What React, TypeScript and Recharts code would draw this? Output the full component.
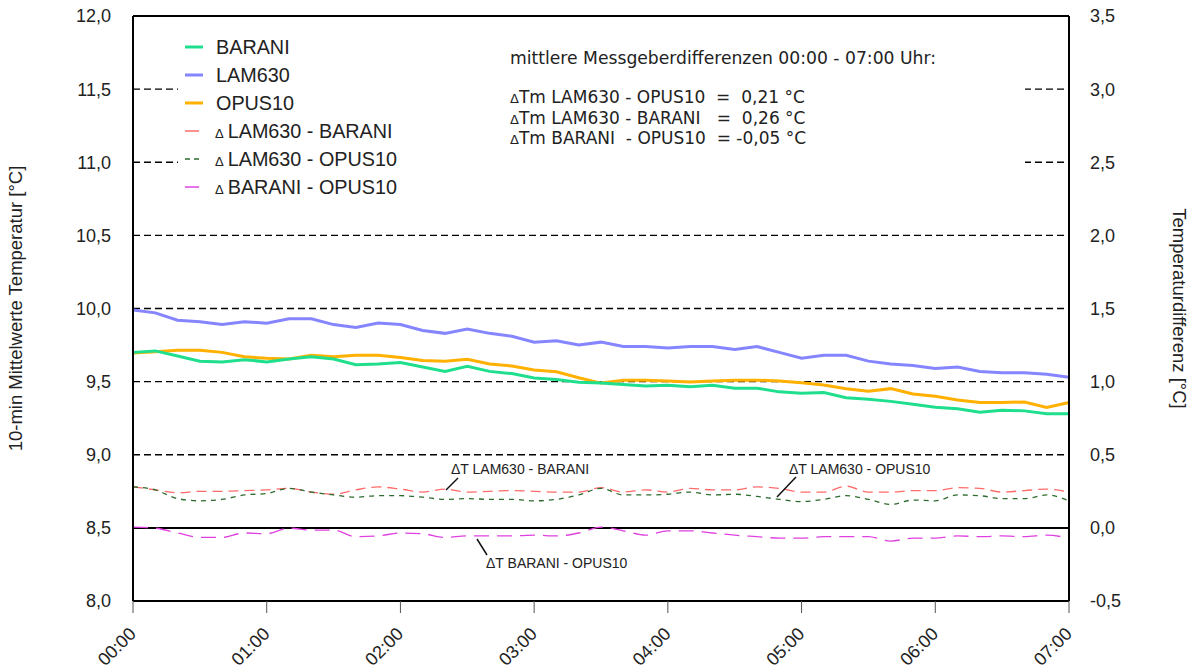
import { Line, LineChart, ReferenceLine, XAxis, YAxis } from 'recharts'

const times = [
  '00:00', '00:10', '00:20', '00:30', '00:40', '00:50',
  '01:00', '01:10', '01:20', '01:30', '01:40', '01:50',
  '02:00', '02:10', '02:20', '02:30', '02:40', '02:50',
  '03:00', '03:10', '03:20', '03:30', '03:40', '03:50',
  '04:00', '04:10', '04:20', '04:30', '04:40', '04:50',
  '05:00', '05:10', '05:20', '05:30', '05:40', '05:50',
  '06:00', '06:10', '06:20', '06:30', '06:40', '06:50',
  '07:00',
]
const hourTicks = ['00:00', '01:00', '02:00', '03:00', '04:00', '05:00', '06:00', '07:00']

const barani = [
  9.70, 9.71, 9.675, 9.64, 9.635, 9.65, 9.635, 9.655, 9.67, 9.655, 9.615, 9.62,
  9.63, 9.60, 9.57, 9.605, 9.57, 9.555, 9.525, 9.515, 9.495, 9.49, 9.48, 9.47,
  9.475, 9.465, 9.475, 9.455, 9.455, 9.43, 9.42, 9.425, 9.39, 9.38, 9.365, 9.345,
  9.325, 9.315, 9.29, 9.305, 9.30, 9.28, 9.28,
]
const lam630 = [
  9.99, 9.97, 9.92, 9.91, 9.89, 9.91, 9.90, 9.93, 9.93, 9.89, 9.87, 9.90,
  9.89, 9.85, 9.83, 9.86, 9.83, 9.81, 9.77, 9.78, 9.75, 9.77, 9.74, 9.74,
  9.73, 9.74, 9.74, 9.72, 9.74, 9.70, 9.66, 9.68, 9.68, 9.64, 9.62, 9.61,
  9.59, 9.60, 9.57, 9.56, 9.56, 9.55, 9.53,
]
const opus10 = [
  9.695, 9.705, 9.715, 9.715, 9.70, 9.67, 9.66, 9.655, 9.68, 9.67, 9.68, 9.68,
  9.665, 9.645, 9.64, 9.653, 9.62, 9.607, 9.58, 9.568, 9.527, 9.49, 9.51, 9.51,
  9.504, 9.497, 9.504, 9.509, 9.51, 9.504, 9.493, 9.477, 9.452, 9.434, 9.452, 9.415,
  9.40, 9.374, 9.357, 9.357, 9.361, 9.324, 9.357,
]
const dLamBarani = [
  0.28, 0.26, 0.24, 0.25, 0.25, 0.255, 0.26, 0.27, 0.245, 0.23, 0.26, 0.28,
  0.265, 0.245, 0.265, 0.245, 0.25, 0.255, 0.25, 0.245, 0.245, 0.275, 0.245, 0.26,
  0.245, 0.27, 0.26, 0.26, 0.28, 0.27, 0.245, 0.245, 0.285, 0.245, 0.245, 0.255,
  0.255, 0.275, 0.27, 0.245, 0.255, 0.265, 0.245,
]
const dLamOpus = [
  0.28, 0.26, 0.20, 0.185, 0.195, 0.225, 0.235, 0.27, 0.245, 0.225, 0.21, 0.22,
  0.22, 0.21, 0.195, 0.20, 0.195, 0.195, 0.185, 0.195, 0.225, 0.27, 0.225, 0.225,
  0.23, 0.245, 0.225, 0.23, 0.215, 0.195, 0.18, 0.195, 0.22, 0.195, 0.16, 0.19,
  0.185, 0.225, 0.22, 0.20, 0.20, 0.225, 0.185,
]
const dBaraniOpus = [
  0.005, -0.002, -0.035, -0.065, -0.065, -0.035, -0.04, -0.002, -0.015, -0.015, -0.06, -0.055,
  -0.035, -0.04, -0.065, -0.055, -0.055, -0.055, -0.05, -0.055, -0.035, 0.005, -0.02, -0.05,
  -0.02, -0.02, -0.035, -0.05, -0.06, -0.07, -0.07, -0.06, -0.06, -0.06, -0.09, -0.07,
  -0.07, -0.055, -0.06, -0.055, -0.06, -0.05, -0.07,
]

const leftTicks = [8, 8.5, 9, 9.5, 10, 10.5, 11, 11.5, 12]
const rightTicks = [-0.5, 0, 0.5, 1, 1.5, 2, 2.5, 3, 3.5]
const gridValues = [9, 9.5, 10, 10.5, 11, 11.5]

const summaryLines = [
  'ΔTm LAM630 - OPUS10  =  0,21 °C',
  'ΔTm LAM630 - BARANI   =  0,26 °C',
  'ΔTm BARANI  - OPUS10  = -0,05 °C',
]

const FONT = '"Liberation Sans", Arial, sans-serif'
const C_BARANI = '#1fdf8c'
const C_LAM = '#8585ff'
const C_OPUS = '#ffb000'
const C_D1 = '#ff6b6b'
const C_D2 = '#2e6b2e'
const C_D3 = '#e040e0'

const fmt = (v: number) => v.toFixed(1).replace('.', ',')

function TimeTick({ x, y, payload }: any) {
  return (
    <g transform={`translate(${x + 4},${y + 20})`}>
      <text
        x={0}
        y={0}
        textAnchor="end"
        transform="rotate(-45)"
        fontSize={18}
        fontFamily={FONT}
        fill="#222"
      >
        {payload.value}
      </text>
    </g>
  )
}

const legendRows = [
  { label: 'BARANI', color: C_BARANI, width: 3, dash: undefined, delta: false },
  { label: 'LAM630', color: C_LAM, width: 3, dash: undefined, delta: false },
  { label: 'OPUS10', color: C_OPUS, width: 3, dash: undefined, delta: false },
  { label: 'LAM630 - BARANI', color: C_D1, width: 1.5, dash: undefined, delta: true },
  { label: 'LAM630 - OPUS10', color: C_D2, width: 1.5, dash: '5 4', delta: true },
  { label: 'BARANI - OPUS10', color: C_D3, width: 1.5, dash: undefined, delta: true },
]

export default function App() {
  const data = times.map((t, i) => ({
    t,
    barani: barani[i],
    lam630: lam630[i],
    opus10: opus10[i],
    dLamBarani: dLamBarani[i],
    dLamOpus: dLamOpus[i],
    dBaraniOpus: dBaraniOpus[i],
  }))

  return (
    <div
      style={{
        position: 'absolute',
        left: 0,
        top: 0,
        width: 1195,
        height: 671,
        background: '#fff',
        fontFamily: FONT,
      }}
    >
      <LineChart width={1195} height={671} data={data} margin={{ top: 16, right: 0, bottom: 0, left: 0 }}>
        <XAxis
          dataKey="t"
          ticks={hourTicks}
          interval={0}
          height={70}
          tickSize={12}
          tick={<TimeTick />}
          tickLine={{ stroke: '#555' }}
          axisLine={{ stroke: '#000', strokeWidth: 2 }}
        />
        <YAxis
          yAxisId="left"
          domain={[8, 12]}
          ticks={leftTicks}
          tickFormatter={fmt}
          width={133}
          tickLine={false}
          tickMargin={16}
          axisLine={{ stroke: '#000', strokeWidth: 2 }}
          tick={{ fill: '#222', fontSize: 18, fontFamily: FONT }}
          label={{
            value: '10-min Mittelwerte Temperatur [°C]',
            angle: -90,
            position: 'insideLeft',
            offset: 15,
            style: { textAnchor: 'middle', fontSize: 18.5, fill: '#222', fontFamily: FONT },
          }}
        />
        <YAxis
          yAxisId="right"
          orientation="right"
          domain={[-0.5, 3.5]}
          ticks={rightTicks}
          tickFormatter={fmt}
          width={126}
          tickLine={false}
          tickMargin={15}
          axisLine={{ stroke: '#000', strokeWidth: 2 }}
          tick={{ fill: '#222', fontSize: 18, fontFamily: FONT }}
          label={{
            value: 'Temperaturdifferenz [°C]',
            angle: 90,
            position: 'insideRight',
            offset: 15,
            style: { textAnchor: 'middle', fontSize: 18.5, fill: '#222', fontFamily: FONT },
          }}
        />
        {gridValues.map((v) => (
          <ReferenceLine key={v} yAxisId="left" y={v} stroke="#000" strokeWidth={1.3} strokeDasharray="7 4" />
        ))}
        <ReferenceLine yAxisId="left" y={12} stroke="#000" strokeWidth={2} />
        <ReferenceLine yAxisId="right" y={0} stroke="#000" strokeWidth={2} />
        <Line yAxisId="right" type="monotone" dataKey="dLamBarani" stroke={C_D1} strokeWidth={1.3} strokeDasharray="10 6" dot={false} isAnimationActive={false} />
        <Line yAxisId="right" type="monotone" dataKey="dLamOpus" stroke={C_D2} strokeWidth={1.3} strokeDasharray="5 5" dot={false} isAnimationActive={false} />
        <Line yAxisId="right" type="monotone" dataKey="dBaraniOpus" stroke={C_D3} strokeWidth={1.3} strokeDasharray="15 8" dot={false} isAnimationActive={false} />
        <Line yAxisId="left" type="linear" dataKey="lam630" stroke={C_LAM} strokeWidth={3} dot={false} isAnimationActive={false} />
        <Line yAxisId="left" type="linear" dataKey="opus10" stroke={C_OPUS} strokeWidth={3} dot={false} isAnimationActive={false} />
        <Line yAxisId="left" type="linear" dataKey="barani" stroke={C_BARANI} strokeWidth={3} dot={false} isAnimationActive={false} />
      </LineChart>

      {/* legend + summary box, white background hides the grid behind it */}
      <div style={{ position: 'absolute', left: 178, top: 28, width: 847, height: 176, background: '#fff' }}>
        {legendRows.map((r, i) => (
          <div
            key={r.label}
            style={{ position: 'absolute', left: 7, top: 19 + i * 28 - 14, height: 28, display: 'flex', alignItems: 'center' }}
          >
            <svg width={18} height={10} style={{ display: 'block' }}>
              <line x1={0} y1={5} x2={r.delta ? 14 : 18} y2={5} stroke={r.color} strokeWidth={r.width} strokeDasharray={r.dash} />
            </svg>
            <span style={{ marginLeft: r.delta ? 12 : 13, fontSize: 19.8, color: '#222', whiteSpace: 'pre' }}>
              {r.delta && <span style={{ fontSize: 13, marginRight: 4 }}>Δ</span>}
              {r.label}
            </span>
          </div>
        ))}
        <div style={{ position: 'absolute', left: 332, top: 20, fontFamily: '"DejaVu Sans", sans-serif', fontSize: 17.2, color: '#222', whiteSpace: 'pre' }}>
          mittlere Messgeberdifferenzen 00:00 - 07:00 Uhr:
        </div>
        {summaryLines.map((s, i) => (
          <div
            key={s}
            style={{ position: 'absolute', left: 332, top: 59 + i * 20.5, fontFamily: '"DejaVu Sans", sans-serif', fontSize: 17, lineHeight: '20px', color: '#222', whiteSpace: 'pre' }}
          >
            <span style={{ fontSize: 13 }}>Δ</span>
            {s.slice(1)}
          </div>
        ))}
      </div>

      {/* curve annotations */}
      <svg width={1195} height={671} style={{ position: 'absolute', left: 0, top: 0, pointerEvents: 'none' }}>
        <g fontFamily={FONT} fontSize={14} fill="#222">
          <text x={451} y={474}>ΔT LAM630 - BARANI</text>
          <text x={789} y={474}>ΔT LAM630 - OPUS10</text>
          <text x={486} y={568}>ΔT BARANI - OPUS10</text>
        </g>
        <g stroke="#111" strokeWidth={1.5}>
          <line x1={458} y1={478} x2={446} y2={490} />
          <line x1={796} y1={477} x2={777} y2={497} />
          <line x1={477} y1={539} x2={487} y2={555} />
        </g>
      </svg>
    </div>
  )
}
